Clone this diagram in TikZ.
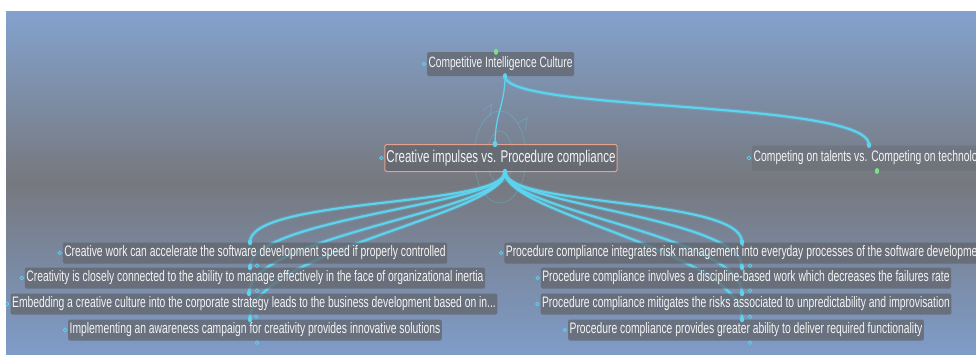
\documentclass[tikz,border=0pt]{standalone}
\usepackage{fontspec}
\setmainfont{Liberation Sans}[FakeStretch=0.68]
\usetikzlibrary{calc}
\definecolor{bgtop}{RGB}{131,162,205}
\definecolor{bgmid}{RGB}{118,120,126}
\definecolor{bgbot}{RGB}{127,156,200}
\definecolor{boxfill}{RGB}{98,101,108}
\definecolor{link}{RGB}{92,212,240}
\definecolor{salmon}{RGB}{228,162,142}
\definecolor{dotgreen}{RGB}{120,226,132}
\definecolor{txt}{RGB}{244,244,244}
\pgfdeclarelayer{back}
\pgfdeclarelayer{lines}
\pgfsetlayers{back,lines,main}
\begin{document}
\begin{tikzpicture}[x=1pt,y=-1pt,
 topicbox/.style={fill=boxfill, fill opacity=0.75, text opacity=1, text=txt, rounded corners=1.5pt, inner xsep=1.5pt, inner ysep=0pt},
 rootbox/.style={topicbox, minimum height=24pt, font=\fontsize{15}{16}\selectfont},
 leafbox/.style={topicbox, minimum height=21pt, font=\fontsize{15.2}{16}\selectfont},
 centralbox/.style={topicbox, draw=salmon, draw opacity=1, line width=1pt, minimum height=27pt, font=\fontsize{17}{18}\selectfont},
 sidebox/.style={topicbox, fill opacity=0.35, minimum height=25pt, font=\fontsize{15.2}{17}\selectfont},
 fan/.style={draw=link, line width=2.2pt, line cap=round},
 glow/.style={draw=link, line width=4.5pt, opacity=0.22, line cap=round},
 thinlink/.style={draw=link, line width=1.3pt},
 hollow/.style={draw=link, line width=0.7pt},
 cdot/.style={fill=link},
 gdot/.style={fill=dotgreen},
 swirl/.style={draw=link, line width=0.9pt, opacity=0.28}
]
\useasboundingbox (0,0) rectangle (976,354);
\begin{pgfonlayer}{back}
\fill[white] (0,0) rectangle (976,354);
\shade[top color=bgtop, bottom color=bgbot, middle color=bgmid] (6,11) rectangle (976,354);
\draw[swirl] (500,157) ellipse (26 and 46);
\draw[swirl] (500,157) ellipse (13 and 26);
\draw[swirl] (483,110) -- (492,104) -- (490,116);
\draw[swirl] (518,123) -- (527,118) -- (525,131);
\end{pgfonlayer}

\begin{scope}
\clip (6,11) rectangle (976,354);
\node[rootbox] (root) at (500.5,64) {Competitive Intelligence Culture};
\node[centralbox] (cr) at (501,158) {Creative impulses vs. Procedure compliance};
\node[sidebox, anchor=west] (cp) at (752,158) {Competing on talents vs. Competing on technology};
\node[leafbox] (l1) at (255,253) {Creative work can accelerate the software development speed if properly controlled};
\node[leafbox] (l2) at (255,278) {Creativity is closely connected to the ability to manage effectively in the face of organizational inertia};
\node[leafbox] (l3) at (254,304) {Embedding a creative culture into the corporate strategy leads to the business development based on in...};
\node[leafbox] (l4) at (255,330) {Implementing an awareness campaign for creativity provides innovative solutions};
\node[leafbox] (r1) at (746,253) {Procedure compliance integrates risk management into everyday processes of the software development};
\node[leafbox] (r2) at (746,278) {Procedure compliance involves a discipline-based work which decreases the failures rate};
\node[leafbox] (r3) at (746,304) {Procedure compliance mitigates the risks associated to unpredictability and improvisation};
\node[leafbox] (r4) at (746,330) {Procedure compliance provides greater ability to deliver required functionality};
\end{scope}

% anchor points
\coordinate (rootb) at ([xshift=4.5pt]root.south);
\coordinate (rootg) at ([xshift=-4.5pt]root.north);
\coordinate (crt) at ([xshift=-6pt]cr.north);
\coordinate (crb) at ([xshift=4pt]cr.south);
\coordinate (cpt) at (869,145);
\coordinate (cpg) at (877,171);
\foreach \n in {1,2,3,4}{
  \coordinate (l\n t) at ([xshift=-5pt]l\n.north);
  \coordinate (l\n b) at ([shift={(2,2)}]l\n.south);
  \coordinate (r\n t) at ([xshift=-4pt]r\n.north);
  \coordinate (r\n b) at ([shift={(4,2)}]r\n.south);
}

\begin{pgfonlayer}{lines}
\draw[thinlink] (rootb) .. controls +(0,28) and +(0,-30) .. (crt);
\draw[glow] (rootb) .. controls (505,112) and (869,100) .. (cpt);
\draw[fan] (rootb) .. controls (505,112) and (869,100) .. (cpt);
\foreach \n/\ca/\cb in {1/35/45, 2/33/50, 3/39/58, 4/42/68}{
  \draw[glow] (crb) .. controls +(0,\ca) and +(0,-\cb) .. (l\n t);
  \draw[fan] (crb) .. controls +(0,\ca) and +(0,-\cb) .. (l\n t);
  \draw[glow] (crb) .. controls +(0,\ca) and +(0,-\cb) .. (r\n t);
  \draw[fan] (crb) .. controls +(0,\ca) and +(0,-\cb) .. (r\n t);
}
\end{pgfonlayer}

% dots and handles
\fill[gdot] (rootg) ellipse (2.2 and 3);
\fill[cdot] (rootb) ellipse (2.2 and 3);
\fill[cdot] (crt) ellipse (2.4 and 3.2);
\fill[cdot] (crb) ellipse (2.4 and 3.2);
\fill[cdot] (cpt) ellipse (2.2 and 3);
\fill[gdot] (cpg) ellipse (2.2 and 3);
\draw[hollow] ([xshift=-3pt]root.west) circle (1.8);
\draw[hollow] ([xshift=-3pt]cr.west) circle (1.8);
\draw[hollow] ([xshift=-3pt]cp.west) circle (1.8);
\foreach \n in {1,2,3,4}{
  \fill[cdot] (l\n t) ellipse (2.2 and 3);
  \fill[cdot] (r\n t) ellipse (2.2 and 3);
  \draw[hollow] (l\n b) circle (1.8);
  \draw[hollow] (r\n b) circle (1.8);
  \draw[hollow] ([xshift=-3pt]l\n.west) circle (1.8);
  \draw[hollow] ([xshift=-3pt]r\n.west) circle (1.8);
}
\end{tikzpicture}
\end{document}
